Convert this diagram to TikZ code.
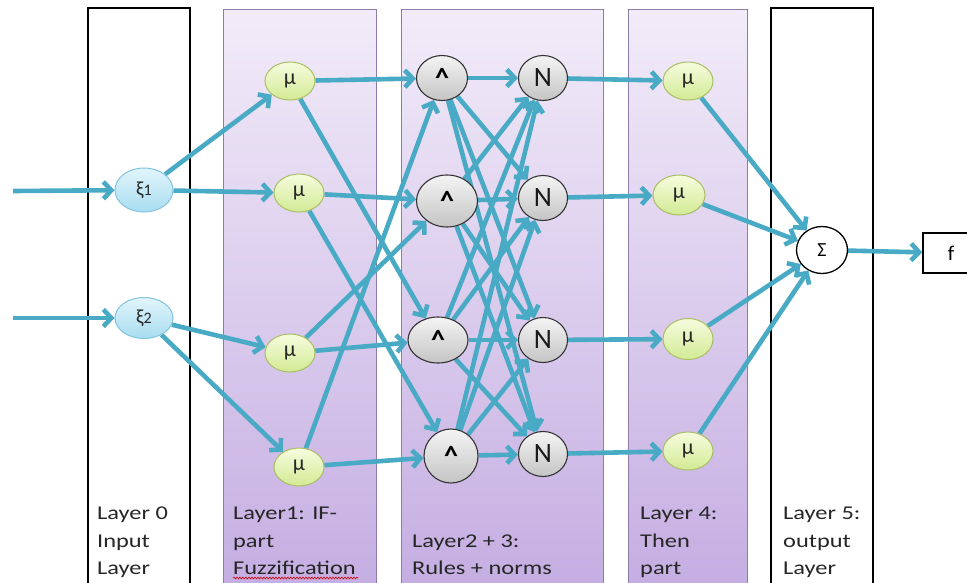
\documentclass[tikz,border=0pt]{standalone}
\usepackage{fontspec}
\setmainfont{Carlito}
\newfontfamily\labfont[FakeStretch=1.25]{Carlito}
\usetikzlibrary{shapes.geometric,arrows.meta,decorations.pathmorphing}

\definecolor{wire}{RGB}{72,170,196}
\definecolor{purpletop}{RGB}{242,236,249}
\definecolor{purplebot}{RGB}{196,172,225}
\definecolor{purpleline}{RGB}{140,124,170}
\definecolor{xitop}{RGB}{226,245,252}
\definecolor{xibot}{RGB}{168,220,240}
\definecolor{xiline}{RGB}{130,196,222}
\definecolor{mutop}{RGB}{246,252,222}
\definecolor{mubot}{RGB}{210,234,148}
\definecolor{muline}{RGB}{170,190,100}
\definecolor{graytop}{RGB}{244,244,244}
\definecolor{graybot}{RGB}{196,196,196}
\definecolor{txt}{RGB}{38,38,38}

\pgfdeclarelayer{bg}
\pgfdeclarelayer{edges}
\pgfsetlayers{bg,edges,main}

\tikzset{
  blackbox/.style={draw=black, line width=2.6pt, fill=white},
  purplebox/.style={draw=purpleline, line width=0.8pt, top color=purpletop, bottom color=purplebot},
  xinode/.style={ellipse, draw=xiline, line width=1pt, top color=xitop, bottom color=xibot,
    minimum width=58pt, minimum height=44pt, inner sep=0pt, font=\fontsize{20}{20}\selectfont, text=txt},
  munode/.style={ellipse, draw=muline, line width=1pt, top color=mutop, bottom color=mubot,
    minimum width=50pt, minimum height=38pt, inner sep=0pt, font=\fontsize{22}{22}\selectfont, text=txt},
  andnode/.style={ellipse, draw=black!80, line width=1.1pt, top color=graytop, bottom color=graybot,
    inner sep=0pt, font=\bfseries\fontsize{28}{28}\selectfont, text=black},
  normnode/.style={ellipse, draw=black!80, line width=1.1pt, top color=graytop, bottom color=graybot,
    minimum width=49pt, minimum height=45pt, inner sep=0pt, font=\fontsize{28}{28}\selectfont, text=black!90},
  sumnode/.style={ellipse, draw=black, line width=1.3pt, fill=white,
    minimum width=51pt, minimum height=47pt, inner sep=0pt, font=\fontsize{20}{20}\selectfont},
  outbox/.style={rectangle, draw=black, line width=1.5pt, fill=white,
    minimum width=56pt, minimum height=40pt, inner sep=0pt, font=\fontsize{21}{21}\selectfont},
  wireto/.style={draw=wire, line width=4.6pt, -{Straight Barb[length=8pt,width=17pt]}},
  lab/.style={anchor=base west, inner sep=0pt, text=txt, font=\labfont\fontsize{19.5}{19.5}\selectfont},
}

\begin{document}
\begin{tikzpicture}[x=1pt,y=-1pt]
\useasboundingbox (0,0) rectangle (967,582);
\clip (0,0) rectangle (967,582);

% layer columns
\begin{pgfonlayer}{bg}
  \fill[white] (0,0) rectangle (967,582);
  \draw[blackbox]  (88,8)   rectangle (190,600);
  \draw[purplebox] (223,9)  rectangle (376,600);
  \draw[purplebox] (401,9)  rectangle (603,600);
  \draw[purplebox] (628,9)  rectangle (747,600);
  \draw[blackbox]  (771,8)  rectangle (873,600);
\end{pgfonlayer}

% layer 0: inputs
\coordinate (in1) at (13,191);
\coordinate (in2) at (13,318);
\node[xinode] (xi1) at (144,190) {ξ{\fontsize{16}{16}\selectfont 1}};
\node[xinode, minimum height=41pt] (xi2) at (144,318) {ξ{\fontsize{16}{16}\selectfont 2}};

% layer 1: fuzzification
\node[munode] (m1) at (290,81)  {μ};
\node[munode] (m2) at (299,193) {μ};
\node[munode] (m3) at (290,353) {μ};
\node[munode] (m4) at (299,467) {μ};

% layer 2: rules
\node[andnode, minimum width=51pt, minimum height=45pt] (a1) at (442,78)  {\textasciicircum};
\node[andnode, minimum width=61pt, minimum height=52pt] (a2) at (447,201) {\textasciicircum};
\node[andnode, minimum width=60pt, minimum height=46pt] (a3) at (438,340) {\textasciicircum};
\node[andnode, minimum width=54pt, minimum height=54pt] (a4) at (451,456) {\textasciicircum};

% layer 3: norms
\node[normnode] (n1) at (543,78)  {N};
\node[normnode] (n2) at (543,198) {N};
\node[normnode] (n3) at (543,340) {N};
\node[normnode] (n4) at (543,454) {N};

% layer 4: consequents
\node[munode] (o1) at (688,81)  {μ};
\node[munode, minimum width=52pt, minimum height=40pt] (o2) at (679,195) {μ};
\node[munode, minimum height=41pt] (o3) at (688,339) {μ};
\node[munode] (o4) at (688,451) {μ};

% layer 5: output
\node[sumnode] (s) at (822,250) {Σ};
\node[outbox] (f) at (951,253) {f};

% connections
\begin{pgfonlayer}{edges}
  \draw[wireto] (in1) -- (xi1);
  \draw[wireto] (in2) -- (xi2);
  \draw[wireto] (xi1) -- (m1);
  \draw[wireto] (xi1) -- (m2);
  \draw[wireto] (xi2) -- (m3);
  \draw[wireto] (xi2) -- (m4);
  \draw[wireto] (m1) -- (a1);
  \draw[wireto] (m1) -- (a3);
  \draw[wireto] (m2) -- (a2);
  \draw[wireto] (m2) -- (a4);
  \draw[wireto] (m3) -- (a3);
  \draw[wireto] (m3) -- (a2);
  \draw[wireto] (m4) -- (a4);
  \draw[wireto] (m4) -- (a1);
  \foreach \i in {1,2,3,4}{
    \foreach \j in {1,2,3,4}{
      \draw[wireto] (a\i) -- (n\j);
    }
    \draw[wireto] (n\i) -- (o\i);
    \draw[wireto] (o\i) -- (s);
  }
  \draw[wireto] (s) -- (f);
\end{pgfonlayer}

% column captions
\node[lab] (c0a) at (97,519) {Layer 0};
\node[lab] (c0b) at (97,547) {Input};
\node[lab] (c0c) at (97,574) {Layer};
\node[lab] (c1a) at (233,519) {Layer1: IF-};
\node[lab] (c1b) at (233,547) {part};
\node[lab] (c1c) at (233,574) {Fuzzification};
\draw[red!85!black, line width=0.6pt, decorate, decoration={snake, amplitude=0.9pt, segment length=3pt}]
  (c1c.base west) ++(0,4) -- ++(125,0);
\node[lab] (c2a) at (412,547) {Layer2 + 3:};
\node[lab] (c2b) at (412,574) {Rules + norms};
\node[lab] (c4a) at (640,519) {Layer 4:};
\node[lab] (c4b) at (640,547) {Then};
\node[lab] (c4c) at (640,574) {part};
\node[lab] (c5a) at (783,519) {Layer 5:};
\node[lab] (c5b) at (783,547) {output};
\node[lab] (c5c) at (783,574) {Layer};
\end{tikzpicture}
\end{document}
